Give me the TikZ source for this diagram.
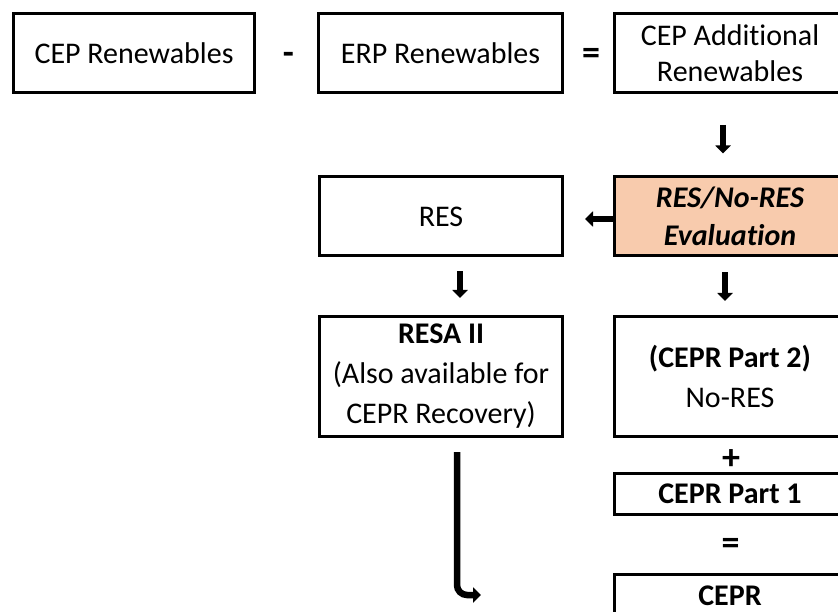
\documentclass[tikz,border=0pt]{standalone}
\usepackage{fontspec}
\setmainfont[Ligatures=NoCommon]{Carlito}
\definecolor{evalpeach}{RGB}{248, 203, 173}
\usetikzlibrary{arrows.meta, positioning}

\begin{document}
\begin{tikzpicture}[x=1pt, y=-1pt,
  cbox/.style={draw, line width=3pt, inner sep=2pt, align=center, font=\fontsize{30}{38}\selectfont, minimum width=231pt, minimum height=79pt},
  opsign/.style={font=\fontsize{36}{40}\selectfont\bfseries, inner sep=0pt},
  arr/.style={-{Triangle[length=8pt, width=15pt]}, line width=6.5pt}
]
  \useasboundingbox (0,0) rectangle (838,612);
  \clip (0,0) rectangle (838,612);
  % top row: the subtraction
  \node[cbox, minimum width=241pt] (cepren) at (134,53) {CEP Renewables};
  \node[opsign] (minus) at (288.5,58) {-};
  \node[cbox, minimum width=244pt] (erpren) at (440.5,53) {ERP Renewables};
  \node[opsign] (eqtop) at (591,56) {=};
  \node[cbox, font=\fontsize{30}{36}\selectfont] (cepadd) at (730,53) {CEP Additional\\Renewables};
  % evaluation row
  \node[cbox, minimum width=243pt] (res) at (441,216.5) {RES};
  \node[cbox, fill=evalpeach, font=\fontsize{30}{38}\selectfont\bfseries\itshape] (eval) at (730,216.5) {RES/No-RES\\Evaluation};
  % results
  \node[cbox, minimum width=243pt, minimum height=120pt, font=\fontsize{30}{40}\selectfont] (resa) at (441,376.5) {\textbf{RESA II}\\(Also available for\\CEPR Recovery)};
  \node[cbox, minimum height=120pt, font=\fontsize{30}{40}\selectfont] (part2) at (730,376.5) {\textbf{(CEPR Part 2)}\\No-RES};
  \node[opsign] (plus) at (731,460) {+};
  \node[cbox, minimum height=41pt, font=\fontsize{30}{36}\selectfont\bfseries] (part1) at (730,494) {CEPR Part 1};
  \node[opsign] (eqbot) at (730.5,546.5) {=};
  \node[cbox, minimum height=43pt, font=\fontsize{30}{36}\selectfont\bfseries] (cepr) at (730,596) {CEPR};
  % connectors
  \draw[arr, shorten <=31pt, shorten >=22pt] ([xshift=-7pt]cepadd.south) -- ([xshift=-7pt]eval.north);
  \draw[arr, shorten >=21pt] ([yshift=-2.5pt]eval.west) -- ([yshift=-2.5pt]res.east);
  \draw[arr, shorten <=14pt, shorten >=17pt] ([xshift=19pt]res.south) -- ([xshift=19pt]resa.north);
  \draw[arr, shorten <=15pt, shorten >=14pt] ([xshift=-5pt]eval.south) -- ([xshift=-5pt]part2.north);
  \coordinate (recov) at (481,595);
  \draw[arr, rounded corners=10pt] ([xshift=16pt, yshift=-14pt]resa.south) |- (recov);
\end{tikzpicture}
\end{document}
